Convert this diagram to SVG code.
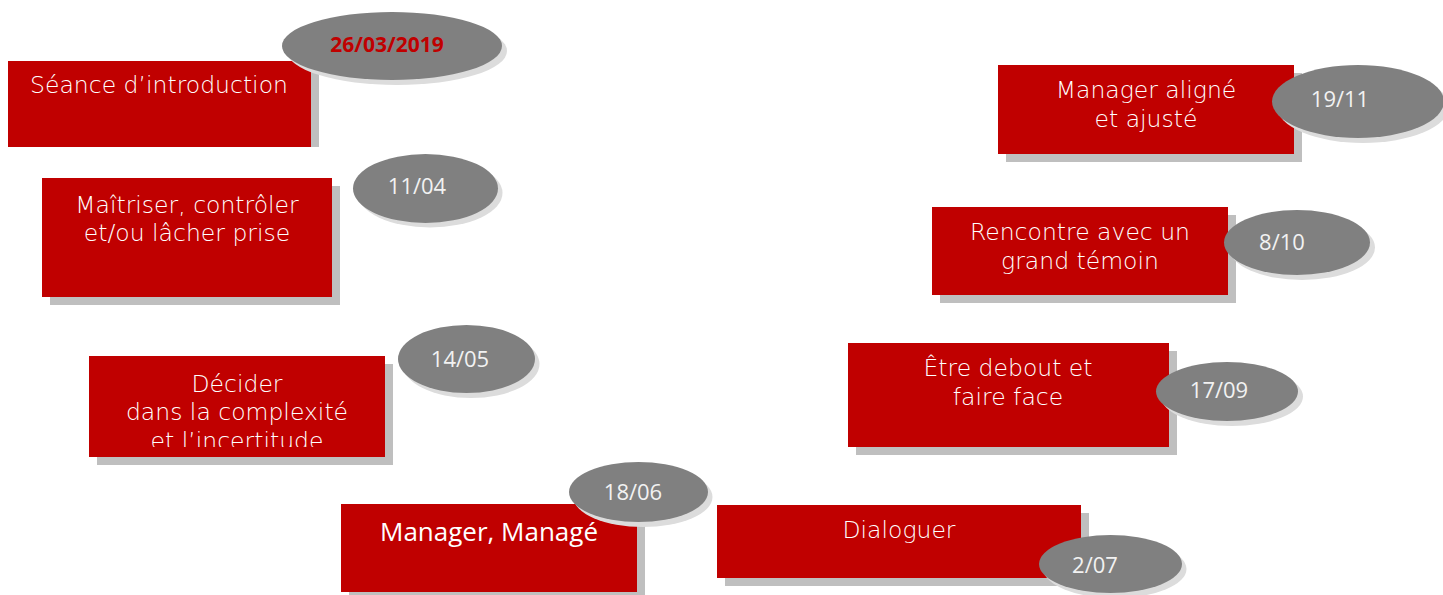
<svg xmlns="http://www.w3.org/2000/svg" width="1443" height="595" viewBox="0 0 1443 595">
<style>
.box{fill:#c00000}
.bsh{fill:#bfbfbf}
.ell{fill:#808080}
.esh{fill:#dcdcdc}
.bt{font-family:"DejaVu Sans","Liberation Sans",sans-serif;font-size:23.5px;font-weight:300;fill:#ffffff;text-anchor:middle}
.bc{font-family:"Open Sans","Liberation Sans",sans-serif;font-size:26px;fill:#ffffff;text-anchor:middle}
.dt{font-family:"Open Sans","Liberation Sans",sans-serif;font-size:22px;fill:#f2f2f2;text-anchor:middle}
.db{font-family:"Open Sans","Liberation Sans",sans-serif;font-size:21px;font-weight:bold;fill:#c00000;text-anchor:middle}
</style>
<defs>
<clipPath id="clip3"><rect x="89" y="356" width="296" height="91"/></clipPath>
</defs>
<rect width="1443" height="595" fill="#ffffff"/>
<g id="connectors"/>
<g id="n1">
<rect class="bsh" x="16" y="69" width="303" height="78"/>
<rect class="box" x="8" y="61" width="303" height="86"/>
<text class="bt" x="159" y="93">Séance d’introduction</text>
<ellipse class="esh" cx="397" cy="51" rx="110" ry="34"/>
<ellipse class="ell" cx="392" cy="46" rx="110" ry="34"/>
<text class="db" x="387" y="52">26/03/2019</text>
</g>
<g id="n2">
<rect class="bsh" x="50" y="186" width="290" height="119"/>
<rect class="box" x="42" y="178" width="290" height="119"/>
<text class="bt" x="187" y="213">Maîtriser, contrôler</text>
<text class="bt" x="187" y="241">et/ou lâcher prise</text>
<ellipse class="esh" cx="430" cy="193" rx="72.5" ry="34.5"/>
<ellipse class="ell" cx="425.5" cy="188.5" rx="72.5" ry="34.5"/>
<text class="dt" x="417" y="194">11/04</text>
</g>
<g id="n3">
<rect class="bsh" x="97" y="364" width="296" height="101"/>
<rect class="box" x="89" y="356" width="296" height="101"/>
<g clip-path="url(#clip3)">
<text class="bt" x="237" y="392">Décider</text>
<text class="bt" x="237" y="420">dans la complexité</text>
<text class="bt" x="237" y="449">et l’incertitude</text>
</g>
<ellipse class="esh" cx="471" cy="364" rx="68.5" ry="34"/>
<ellipse class="ell" cx="466.5" cy="359" rx="68.5" ry="34"/>
<text class="dt" x="460" y="367">14/05</text>
</g>
<g id="n4">
<rect class="bsh" x="349" y="512" width="296" height="88"/>
<rect class="box" x="341" y="504" width="296" height="88"/>
<text class="bc" x="489" y="541">Manager, Managé</text>
<ellipse class="esh" cx="643" cy="497" rx="69.5" ry="30"/>
<ellipse class="ell" cx="638.5" cy="492" rx="69.5" ry="30"/>
<text class="dt" x="633" y="500">18/06</text>
</g>
<g id="n5">
<rect class="bsh" x="725" y="513" width="364" height="73"/>
<rect class="box" x="717" y="505" width="364" height="73"/>
<text class="bt" x="899" y="538">Dialoguer</text>
<ellipse class="esh" cx="1115" cy="569" rx="71.5" ry="29"/>
<ellipse class="ell" cx="1110.5" cy="564" rx="71.5" ry="29"/>
<text class="dt" x="1095" y="573">2/07</text>
</g>
<g id="n6">
<rect class="bsh" x="856" y="351" width="321" height="104"/>
<rect class="box" x="848" y="343" width="321" height="104"/>
<text class="bt" x="1008" y="376">Être debout et</text>
<text class="bt" x="1008" y="405">faire face</text>
<ellipse class="esh" cx="1232" cy="396.5" rx="71" ry="29.5"/>
<ellipse class="ell" cx="1227" cy="391.5" rx="71" ry="29.5"/>
<text class="dt" x="1219" y="398">17/09</text>
</g>
<g id="n7">
<rect class="bsh" x="940" y="215" width="296" height="88"/>
<rect class="box" x="932" y="207" width="296" height="88"/>
<text class="bt" x="1080" y="240">Rencontre avec un</text>
<text class="bt" x="1080" y="269">grand témoin</text>
<ellipse class="esh" cx="1302" cy="247.5" rx="73" ry="32.5"/>
<ellipse class="ell" cx="1297" cy="242.5" rx="73" ry="32.5"/>
<text class="dt" x="1282" y="250">8/10</text>
</g>
<g id="n8">
<rect class="bsh" x="1006" y="73" width="296" height="89"/>
<rect class="box" x="998" y="65" width="296" height="89"/>
<text class="bt" x="1146" y="98">Manager aligné</text>
<text class="bt" x="1146" y="127">et ajusté</text>
<ellipse class="esh" cx="1363" cy="106.5" rx="86" ry="36.5"/>
<ellipse class="ell" cx="1358" cy="101.5" rx="86" ry="36.5"/>
<text class="dt" x="1340" y="107">19/11</text>
</g>
</svg>
